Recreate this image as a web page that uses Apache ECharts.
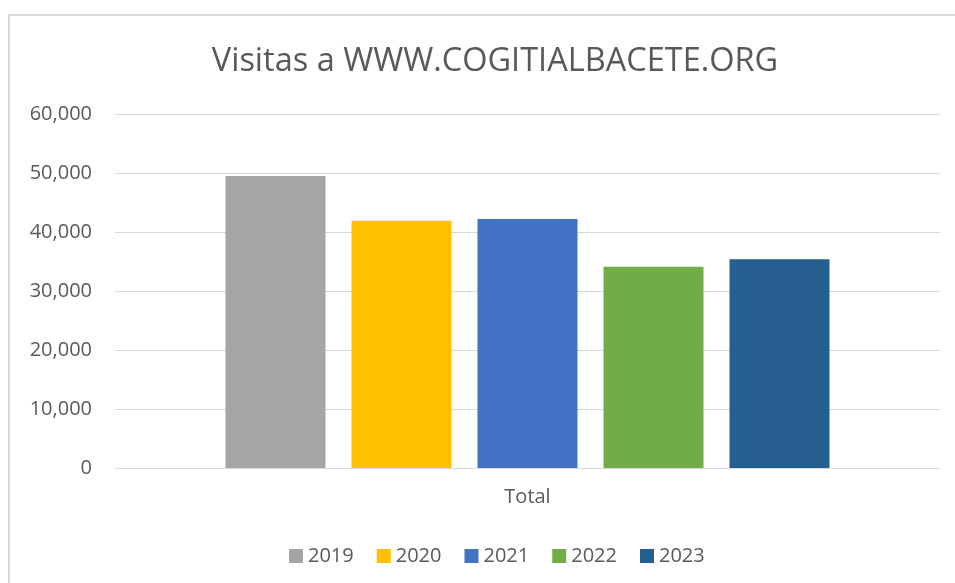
<!DOCTYPE html>
<html><head><meta charset="utf-8">
<script src="https://cdn.jsdelivr.net/npm/echarts@6/dist/echarts.min.js"></script>
<style>html,body{margin:0;padding:0;background:#fff}#c{width:955px;height:583px}</style>
</head><body><div id="c"></div>
<script>
const categories = ['Total'];
const years = ['2019', '2020', '2021', '2022', '2023'];
const visits = [49500, 41900, 42200, 34100, 35400];
const colors = ['#a5a5a5', '#ffc000', '#4472c4', '#70ad47', '#255e91'];
const yTicks = { min: 0, max: 60000, interval: 10000 };

const font = 'Open Sans';
const chart = echarts.init(document.getElementById('c'));
chart.setOption({
  animation: false,
  backgroundColor: '#fff',
  title: {
    text: 'Visitas a WWW.COGITIALBACETE.ORG',
    left: 490, textAlign: 'center', top: 40,
    textStyle: { fontFamily: font, fontSize: 32.5, fontWeight: 'normal', color: '#595959' }
  },
  graphic: [{
    type: 'rect', shape: { x: 9, y: 15, width: 1000, height: 1000 },
    style: { fill: 'none', stroke: '#d9d9d9', lineWidth: 2 }, z: -1
  }],
  grid: { left: 115, right: 15, top: 114, bottom: 583 - 468 },
  legend: {
    top: 541, left: 284, itemWidth: 14, itemHeight: 14, itemGap: 23,
    icon: 'rect',
    textStyle: { fontFamily: font, fontSize: 20, color: '#595959' },
    data: years
  },
  xAxis: {
    type: 'category', data: categories,
    axisLine: { show: false }, axisTick: { show: false },
    axisLabel: { fontFamily: font, fontSize: 20, color: '#595959', margin: 19 }
  },
  yAxis: {
    type: 'value', min: yTicks.min, max: yTicks.max, interval: yTicks.interval,
    axisLine: { show: false }, axisTick: { show: false },
    splitLine: { lineStyle: { color: '#d9d9d9', width: 1 } },
    axisLabel: {
      fontFamily: font, fontSize: 20, color: '#595959', margin: 23,
      formatter: v => v.toLocaleString('en-US')
    }
  },
  series: years.map((y, i) => ({
    name: y, type: 'bar', data: [visits[i]],
    barWidth: 100, barGap: '26%',
    itemStyle: { color: colors[i] }
  }))
});
</script></body></html>
